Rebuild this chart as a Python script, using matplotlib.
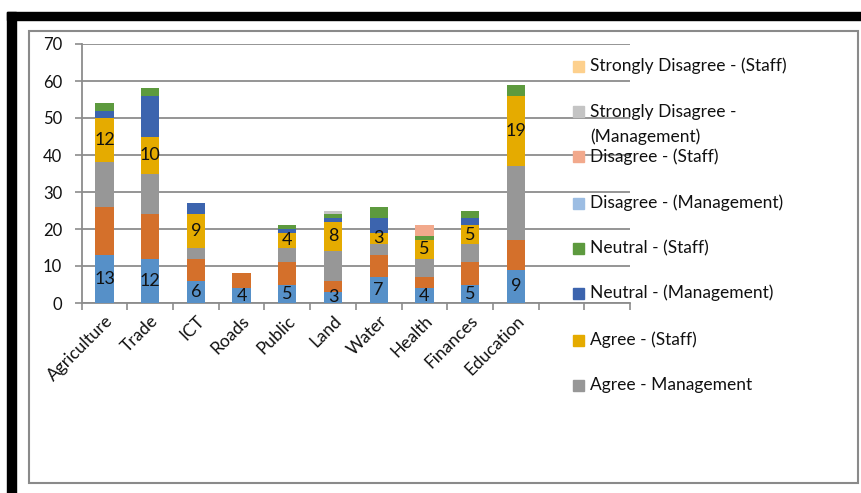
import numpy as np
import matplotlib.pyplot as plt
from matplotlib.patches import Rectangle

plt.rcParams['font.family'] = ['Lato', 'DejaVu Sans']

sectors = ['Agriculture', 'Trade', 'ICT', 'Roads', 'Public', 'Land',
           'Water', 'Health', 'Finances', 'Education']

# bottom to top of each stack
sa_mgmt = [13, 12, 6, 4, 5, 3, 7, 4, 5, 9]
sa_staff = [13, 12, 6, 4, 6, 3, 6, 3, 6, 8]
agree_mgmt = [12, 11, 3, 0, 4, 8, 3, 5, 5, 20]
agree_staff = [12, 10, 9, 0, 4, 8, 3, 5, 5, 19]
neutral_mgmt = [2, 11, 3, 0, 1, 1, 4, 0, 2, 0]
neutral_staff = [2, 2, 0, 0, 1, 1, 3, 1, 2, 3]
dis_mgmt = [0, 0, 0, 0, 0, 0, 0, 0, 0, 0]
dis_staff = [0, 0, 0, 0, 0, 0, 0, 3, 0, 0]
sd_mgmt = [0, 0, 0, 0, 0, 1, 0, 0, 0, 0]
sd_staff = [0, 0, 0, 0, 0, 0, 0, 0, 0, 0]

series = [
    ('Strongly Agree - (Management)', sa_mgmt, '#5690c8'),
    ('Strongly Agree - (Staff)', sa_staff, '#d4702b'),
    ('Agree - Management', agree_mgmt, '#979797'),
    ('Agree - (Staff)', agree_staff, '#e5ab00'),
    ('Neutral - (Management)', neutral_mgmt, '#3c64ae'),
    ('Neutral - (Staff)', neutral_staff, '#5d9a3e'),
    ('Disagree - (Management)', dis_mgmt, '#9cbde3'),
    ('Disagree - (Staff)', dis_staff, '#f2a98c'),
    ('Strongly Disagree -\n(Management)', sd_mgmt, '#c4c4c4'),
    ('Strongly Disagree - (Staff)', sd_staff, '#fdd08d'),
]
labelled = ['Strongly Agree - (Management)', 'Agree - (Staff)']

W, H = 862, 493
fig = plt.figure(figsize=(W / 100, H / 100), dpi=100)

# outer decorations: black border, gray chart frame
fig.patches.append(Rectangle((7 / W, 1 - 20 / H), 1 - 7 / W, 8 / H,
                             transform=fig.transFigure, color='black', zorder=0))
fig.patches.append(Rectangle((7 / W, 0), 9 / W, 1 - 12 / H,
                             transform=fig.transFigure, color='black', zorder=0))
fig.patches.append(Rectangle((29 / W, 1 - 483 / H), 829 / W, 452 / H,
                             transform=fig.transFigure, fill=False,
                             edgecolor='#8a8a8a', lw=1.5, zorder=0))

ax = fig.add_axes([81.7 / W, 1 - 303 / H, (630 - 81.7) / W, (303 - 44) / H])

x = np.arange(len(sectors))
bottom = np.zeros(len(sectors))
for name, vals, col in series:
    vals = np.array(vals, dtype=float)
    ax.bar(x, vals, 0.4, bottom=bottom, color=col, zorder=3)
    if name in labelled:
        for xi, b, v in zip(x, bottom, vals):
            if v > 0:
                ax.text(xi, b + v / 2, '%d' % v, ha='center', va='center',
                        fontsize=13, color='#111111', zorder=4)
    bottom += vals

ax.set_xlim(-0.5, 11.5)
ax.set_ylim(0, 70)
ax.set_yticks(range(0, 71, 10))
ax.yaxis.grid(True, color='#8c8c8c', lw=1.3, zorder=0)
ax.set_xticks(np.arange(-0.5, 12, 1))
ax.set_xticklabels([])
ax.set_xticks(x, minor=True)
ax.set_xticklabels(sectors, minor=True, rotation=45, ha='right',
                   va='top', rotation_mode='anchor', fontsize=12.5,
                   color='#111111')
ax.tick_params(axis='x', which='minor', length=0, pad=7)
ax.tick_params(axis='x', which='major', length=5, color='#8c8c8c', width=1.2)
ax.tick_params(axis='y', length=5, color='#8c8c8c', width=1.2,
               labelsize=12, labelcolor='#111111', pad=9)
for s in ['top', 'right']:
    ax.spines[s].set_visible(False)
for s in ['left', 'bottom']:
    ax.spines[s].set_color('#8c8c8c')
    ax.spines[s].set_linewidth(1.3)

# legend (last two series are cut off in the original)
rows = [66, 111.7, 156.7, 203, 248, 293, 340, 385]
shown = series[::-1][:8]
for (name, vals, col), ry in zip(shown, rows):
    fig.patches.append(Rectangle((573 / W, 1 - (ry + 5.5) / H), 11 / W, 11 / H,
                                 transform=fig.transFigure, color=col, zorder=5))
    for k, ln in enumerate(name.split('\n')):
        fig.text(590 / W, 1 - (ry + 25 * k) / H, ln, ha='left', va='center',
                 fontsize=12.5, color='#111111')

fig.savefig('out.png', dpi=100)
